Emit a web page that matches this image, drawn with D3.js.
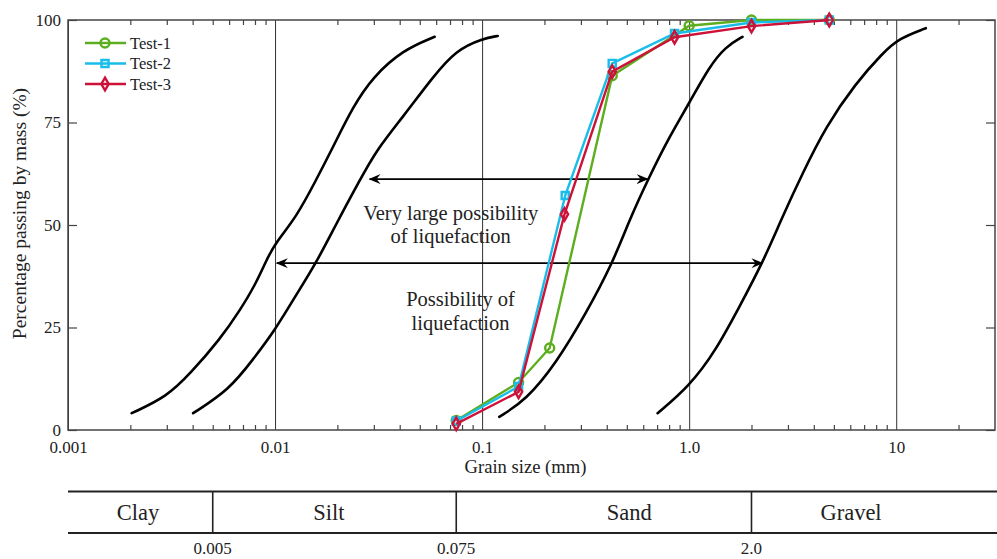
<!DOCTYPE html>
<html>
<head>
<meta charset="utf-8">
<script src="https://cdn.jsdelivr.net/npm/d3@7"></script>
<style>
  body { margin: 0; background: #fff; }
  svg text { font-family: 'Liberation Serif', 'Times New Roman', serif; fill: #222; }
</style>
</head>
<body>
<div id="chart"></div>
<script>
// grain size (mm) / percentage passing
const test1 = [[0.075, 2.3], [0.15, 11.6], [0.212, 20], [0.425, 86.4], [1.0, 98.6], [2.0, 100], [4.75, 100]];
const test2 = [[0.075, 2.2], [0.15, 10.6], [0.252, 57.2], [0.425, 89.4], [0.85, 96.7], [2.0, 99.4], [4.75, 100]];
const test3 = [[0.075, 1.5], [0.15, 9.3], [0.25, 52.6], [0.425, 87.4], [0.85, 95.8], [2.0, 98.5], [4.75, 100]];
const seriesNames = ['Test-1', 'Test-2', 'Test-3'];

// boundary curves of liquefaction zones
const bound1 = [[0.00203, 4.1], [0.003, 8.1], [0.0039, 13.8], [0.0054, 22], [0.0068, 29.3], [0.0081, 35.8],
  [0.0091, 41.5], [0.01, 45.5], [0.0127, 52], [0.0158, 61], [0.0191, 69.1], [0.0238, 78.9], [0.0298, 86.2],
  [0.0415, 92.7], [0.059, 95.9]];
const bound2 = [[0.00402, 4.1], [0.006, 9.8], [0.0078, 17.1], [0.01, 24.4], [0.0122, 31.7], [0.0158, 40.7],
  [0.0198, 50.4], [0.0257, 61], [0.0309, 68.3], [0.0415, 76.4], [0.058, 86.2], [0.075, 92.7], [0.101, 95.5],
  [0.119, 96.1]];
const bound3 = [[0.121, 3.2], [0.163, 7.3], [0.228, 16.3], [0.318, 28.5], [0.427, 40.7], [0.514, 51.2],
  [0.642, 61.8], [0.802, 71.5], [1.0, 79.7], [1.25, 88.6], [1.5, 93.5], [1.81, 95.9]];
const bound4 = [[0.704, 4.1], [1.0, 10.6], [1.35, 19.5], [1.75, 30.1], [2.26, 40.7], [2.82, 52], [3.53, 62.6],
  [4.57, 74], [6.38, 84.6], [8.59, 91.9], [10.3, 95.5], [13.9, 98]];

// double arrows: [from size, to size, percent]
const arrows = [[0.0286, 0.63, 61.2], [0.0102, 2.26, 40.7]];

const xTickValues = [0.001, 0.01, 0.1, 1, 10];
const xTickLabels = ['0.001', '0.01', '0.1', '1.0', '10'];
const yTickValues = [0, 25, 50, 75, 100];

// soil classification band
const soilBreaks = [0.005, 0.075, 2.0];
const soilBreakLabels = ['0.005', '0.075', '2.0'];
const soilNames = ['Clay', 'Silt', 'Sand', 'Gravel'];
const soilLabelAt = [0.00218, 0.0182, 0.514, 6.05];

const colors = ['#5cae1e', '#19bde9', '#cc1238'];

const svgwidth = 997;
const svgheight = 559;
const svg = d3.select('#chart').append('svg')
  .attr('width', svgwidth)
  .attr('height', svgheight);

const margin = { left: 68, right: 1, top: 20, bottom: 129 };
const width = svgwidth - margin.left - margin.right;
const height = svgheight - margin.top - margin.bottom;
const g = svg.append('g').attr('transform', `translate(${margin.left},${margin.top})`);

const x = d3.scaleLog().domain([0.001, 30]).range([0, width - 1]);
const y = d3.scaleLinear().domain([0, 100]).range([height, 0]);

// minor ticks, inside, top and bottom
const minor = [];
for (let e = -3; e <= 1; e++) {
  for (let k = 2; k <= 9; k++) {
    const v = k * Math.pow(10, e);
    if (v < 30) minor.push(v);
  }
}
g.append('g')
  .attr('transform', `translate(0,${height})`)
  .call(d3.axisBottom(x).tickValues(minor).tickSize(-5).tickFormat(''))
  .call(a => a.select('.domain').remove())
  .selectAll('line').attr('stroke', '#444').attr('stroke-width', 1.2);
g.append('g')
  .call(d3.axisTop(x).tickValues(minor).tickSize(-5).tickFormat(''))
  .call(a => a.select('.domain').remove())
  .selectAll('line').attr('stroke', '#444').attr('stroke-width', 1.2);

// decade grid lines
g.append('g')
  .attr('transform', `translate(0,${height})`)
  .call(d3.axisBottom(x).tickValues(xTickValues).tickSize(-height).tickPadding(11)
    .tickFormat((d, i) => xTickLabels[i]))
  .call(a => a.select('.domain').remove())
  .call(a => a.selectAll('line').attr('stroke', '#333').attr('stroke-width', 1))
  .call(a => a.selectAll('text').attr('font-size', 17).attr('fill', '#222')
    .attr('font-family', 'Liberation Serif'));

// y axis
g.append('g')
  .call(d3.axisLeft(y).tickValues(yTickValues).tickSize(-9).tickPadding(7))
  .call(a => a.select('.domain').remove())
  .call(a => a.selectAll('line').attr('stroke', '#444').attr('stroke-width', 1.2))
  .call(a => a.selectAll('text').attr('font-size', 17).attr('fill', '#222')
    .attr('font-family', 'Liberation Serif'));
g.append('g')
  .attr('transform', `translate(${width - 1},0)`)
  .call(d3.axisRight(y).tickValues(yTickValues).tickSize(-9).tickFormat(''))
  .call(a => a.select('.domain').remove())
  .selectAll('line').attr('stroke', '#444').attr('stroke-width', 1.2);

// frame
g.append('rect')
  .attr('x', 0).attr('y', 0)
  .attr('width', width - 1).attr('height', height)
  .attr('fill', 'none')
  .attr('stroke', '#444')
  .attr('stroke-width', 1.5);

// axis titles
g.append('text')
  .attr('x', x(0.162))
  .attr('y', height + 43)
  .attr('text-anchor', 'middle')
  .attr('font-size', 18.6)
  .text('Grain size (mm)');
g.append('text')
  .attr('transform', `translate(${-42},${y(52.8)}) rotate(-90)`)
  .attr('text-anchor', 'middle')
  .attr('font-size', 19.5)
  .text('Percentage passing by mass (%)');

// boundary curves
const bline = d3.line()
  .x(d => x(d[0]))
  .y(d => y(d[1]))
  .curve(d3.curveBasis);
[bound1, bound2, bound3, bound4].forEach((b) => {
  g.append('path')
    .attr('d', bline(b))
    .attr('fill', 'none')
    .attr('stroke', '#000')
    .attr('stroke-width', 2.6)
    .attr('stroke-linecap', 'round');
});

// arrows
const defs = svg.append('defs');
defs.append('marker')
  .attr('id', 'head')
  .attr('viewBox', '0 0 12 10')
  .attr('refX', 11)
  .attr('refY', 5)
  .attr('markerWidth', 12)
  .attr('markerHeight', 10)
  .attr('markerUnits', 'userSpaceOnUse')
  .attr('orient', 'auto-start-reverse')
  .append('path')
  .attr('d', 'M0,0 L12,5 L0,10 L4,5 Z')
  .attr('fill', '#000');
arrows.forEach((a) => {
  g.append('line')
    .attr('x1', x(a[0])).attr('x2', x(a[1]))
    .attr('y1', y(a[2])).attr('y2', y(a[2]))
    .attr('stroke', '#000')
    .attr('stroke-width', 1.6)
    .attr('marker-start', 'url(#head)')
    .attr('marker-end', 'url(#head)');
});

// zone labels
const notes = [
  ['Very large possibility', 0.0705, 220 - margin.top],
  ['of liquefaction', 0.0705, 243 - margin.top],
  ['Possibility of', 0.0787, 306 - margin.top],
  ['liquefaction', 0.0787, 330 - margin.top],
];
notes.forEach((n) => {
  g.append('text')
    .attr('x', x(n[1]))
    .attr('y', n[2])
    .attr('text-anchor', 'middle')
    .attr('font-size', 20.5)
    .text(n[0]);
});

// test series
const line = d3.line().x(d => x(d[0])).y(d => y(d[1]));
const symbols = [d3.symbolCircle, d3.symbolSquare, d3.symbolDiamond];
const sizes = [64, 50, 46];
[test1, test2, test3].forEach((s, i) => {
  g.append('path')
    .attr('d', line(s))
    .attr('fill', 'none')
    .attr('stroke', colors[i])
    .attr('stroke-width', 2.4);
  g.selectAll(`.m${i}`)
    .data(s)
    .enter()
    .append('path')
    .attr('class', `m${i}`)
    .attr('transform', d => `translate(${x(d[0])},${y(d[1])})`)
    .attr('d', d3.symbol().type(symbols[i]).size(sizes[i]))
    .attr('fill', 'none')
    .attr('stroke', colors[i])
    .attr('stroke-width', 2.4);
});

// legend
const legend = g.append('g').attr('transform', 'translate(17,23)');
seriesNames.forEach((name, i) => {
  const row = legend.append('g').attr('transform', `translate(0,${i * 20.5})`);
  row.append('line')
    .attr('x1', 0).attr('x2', 41)
    .attr('stroke', colors[i])
    .attr('stroke-width', 2.4);
  row.append('path')
    .attr('transform', 'translate(20,0)')
    .attr('d', d3.symbol().type(symbols[i]).size(sizes[i]))
    .attr('fill', 'none')
    .attr('stroke', colors[i])
    .attr('stroke-width', 2.4);
  row.append('text')
    .attr('x', 45)
    .attr('y', 5.5)
    .attr('font-size', 16.5)
    .text(name);
});

// soil classification band
const bandTop = 491.5 - margin.top;
const bandBottom = 533 - margin.top;
const band = g.append('g');
[bandTop, bandBottom].forEach((yy) => {
  band.append('line')
    .attr('x1', 0).attr('x2', width + 1)
    .attr('y1', yy).attr('y2', yy)
    .attr('stroke', '#222')
    .attr('stroke-width', 2);
});
soilBreaks.forEach((b, i) => {
  band.append('line')
    .attr('x1', x(b)).attr('x2', x(b))
    .attr('y1', bandTop).attr('y2', bandBottom)
    .attr('stroke', '#222')
    .attr('stroke-width', 1.6);
  band.append('text')
    .attr('x', x(b))
    .attr('y', 554 - margin.top)
    .attr('text-anchor', 'middle')
    .attr('font-size', 17)
    .text(soilBreakLabels[i]);
});
soilNames.forEach((n, i) => {
  band.append('text')
    .attr('x', x(soilLabelAt[i]))
    .attr('y', 520 - margin.top)
    .attr('text-anchor', 'middle')
    .attr('font-size', 22.5)
    .text(n);
});
</script>
</body>
</html>
